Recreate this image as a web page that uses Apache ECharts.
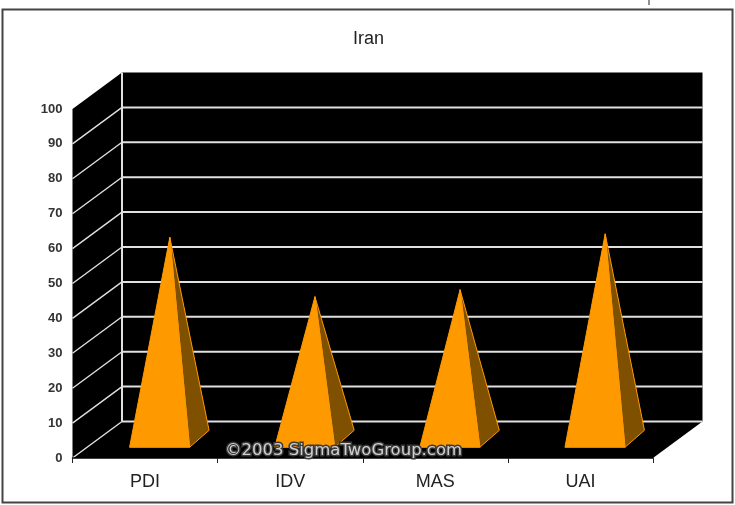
<!DOCTYPE html>
<html><head><meta charset="utf-8">
<style>html,body{margin:0;padding:0;background:#fff}#c{width:735px;height:505px}</style>
<script src="https://cdn.jsdelivr.net/npm/echarts@6/dist/echarts.min.js"></script>
</head><body><div id="c"></div>
<script>
const titleText = 'Iran';
const categories = ['PDI', 'IDV', 'MAS', 'UAI'];
const values = [58, 41, 43, 59];
const yTicks = [0, 10, 20, 30, 40, 50, 60, 70, 80, 90, 100];
const watermark = '©2003 SigmaTwoGroup.com';

const DX = 49.5, DY = -36.5;           // depth of the pseudo-3D box
const ORANGE = '#ff9900', DARK = '#7f5000', GRID = '#e0e0e0';

function wallItem(params, api) {
  const cs = params.coordSys;
  const l = cs.x, r = cs.x + cs.width, b = cs.y + cs.height, t = cs.y;
  const poly = (pts, fill) => ({type: 'polygon', shape: {points: pts}, style: {fill: fill}});
  return {type: 'group', children: [
    poly([[l + DX, t + DY], [r + DX, t + DY], [r + DX, b + DY], [l + DX, b + DY]], '#000'),
    poly([[l, t], [l + DX, t + DY], [l + DX, b + DY], [l, b]], '#000'),
    poly([[l, b], [l + DX, b + DY], [r + DX, b + DY], [r, b]], '#000'),
    {type: 'line', shape: {x1: l + DX, y1: t + DY, x2: l + DX, y2: b + DY},
     style: {stroke: GRID, lineWidth: 2}}
  ]};
}
function gridItem(params, api) {
  const cs = params.coordSys;
  const y = api.coord([0, api.value(0)])[1];
  const l = cs.x, r = cs.x + cs.width;
  return {type: 'group', children: [
    {type: 'line', shape: {x1: l, y1: y, x2: l + DX, y2: y + DY},
     style: {stroke: GRID, lineWidth: 1.4}},
    {type: 'line', shape: {x1: l + DX, y1: y + DY, x2: r + DX, y2: y + DY},
     style: {stroke: GRID, lineWidth: 2}}
  ]};
}
function pyramidItem(params, api) {
  const base = api.coord([api.value(0), 0]);
  const top = api.coord([api.value(0), api.value(1)]);
  const half = 30;
  const apex = [top[0] + DX * 0.5, top[1] + DY * 0.5];
  const fy = base[1] - 10.7, fx = base[0] + 14.5;
  const fl = [fx - half, fy], fr = [fx + half, fy];
  const br = [fr[0] + 19.5, fr[1] - 17];
  return {type: 'group', children: [
    {type: 'polygon', shape: {points: [fr, br, apex]},
     style: {fill: DARK, stroke: ORANGE, lineWidth: 1}},
    {type: 'polygon', shape: {points: [fl, fr, apex]},
     style: {fill: ORANGE, stroke: ORANGE, lineWidth: 1}}
  ]};
}

const chart = echarts.init(document.getElementById('c'), null, {renderer: 'canvas'});
chart.setOption({
  animation: false,
  backgroundColor: '#fff',
  title: {text: titleText, left: 348, top: 25,
          textStyle: {fontFamily: 'Liberation Sans', fontSize: 18, fontWeight: 'normal', color: '#222'}},
  grid: {left: 72.5, right: 82, top: 109, bottom: 47},
  xAxis: {type: 'category', data: categories, z: 5,
          axisLine: {lineStyle: {color: '#000', width: 1.5}},
          axisTick: {show: true, length: 5, lineStyle: {color: '#222'}},
          axisLabel: {margin: 15, fontFamily: 'Liberation Sans', fontSize: 18, color: '#222'}},
  yAxis: {type: 'value', min: 0, max: 100, interval: 10,
          axisLine: {show: false}, axisTick: {show: false}, splitLine: {show: false},
          axisLabel: {margin: 10, padding: [3, 0, 0, 0], fontFamily: 'Liberation Sans', fontSize: 13, fontWeight: 'bold', color: '#333'}},
  series: [
    {type: 'custom', renderItem: wallItem, data: [[0]], z: 1, silent: true},
    {type: 'custom', renderItem: gridItem, data: yTicks.slice(0, -1).map(v => [v]), encode: {y: 0}, z: 2, silent: true},
    {type: 'custom', renderItem: pyramidItem, data: values.map((v, i) => [i, v]), encode: {x: 0, y: 1}, z: 3}
  ],
  graphic: [
    {type: 'rect', shape: {x: 2.5, y: 9.5, width: 730, height: 493}, z: 0,
     style: {fill: 'none', stroke: '#444', lineWidth: 2}},
    {type: 'line', shape: {x1: 649, y1: 0, x2: 649, y2: 5}, style: {stroke: '#222', lineWidth: 1}},
    {type: 'text', x: 225, y: 442, z: 20,
     style: {text: watermark, fontFamily: 'DejaVu Sans', fontSize: 16.5, fill: '#d0d0d0',
             stroke: '#3a3a3a', lineWidth: 3}}
  ]
});
</script></body></html>
